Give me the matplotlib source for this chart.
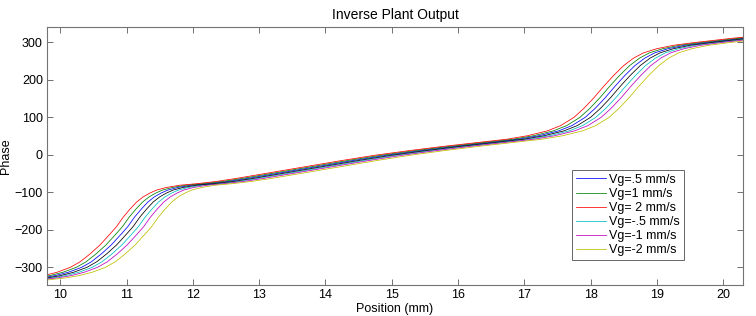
import matplotlib

matplotlib.use("Agg")
import matplotlib.pyplot as plt

plt.rcParams["font.family"] = ["Liberation Sans", "DejaVu Sans"]

# phase levels (deg) shared by all runs
phase = [-334, -328, -322, -313, -300, -285, -264, -240, -211, -191, -166,
         -145, -126, -112, -102, -94, -87, -81, -77, -71, -63, -45, -30, -15,
         -1, 11, 22, 32, 42, 51, 64, 78, 100, 124, 152, 183, 212, 238, 258,
         272, 283, 292, 299, 305, 311, 316]

# position (mm) at which each run reaches the phase levels above
pos_vg_p05 = [9.42, 9.72, 9.92, 10.12, 10.32, 10.47, 10.62, 10.77, 10.92,
              11.02, 11.12, 11.22, 11.32, 11.42, 11.52, 11.62, 11.77, 11.97,
              12.22, 12.52, 12.82, 13.42, 13.92, 14.42, 14.92, 15.42, 15.92,
              16.42, 16.92, 17.22, 17.52, 17.72, 17.92, 18.07, 18.22, 18.37,
              18.52, 18.67, 18.82, 18.97, 19.17, 19.42, 19.72, 20.02, 20.32,
              20.62]
pos_vg_p1 = [9.34, 9.64, 9.84, 10.04, 10.24, 10.39, 10.54, 10.69, 10.84,
             10.94, 11.04, 11.14, 11.24, 11.34, 11.44, 11.54, 11.69, 11.89,
             12.14, 12.44, 12.74, 13.34, 13.84, 14.34, 14.84, 15.34, 15.84,
             16.34, 16.84, 17.14, 17.44, 17.64, 17.84, 17.99, 18.14, 18.29,
             18.44, 18.59, 18.74, 18.89, 19.09, 19.34, 19.64, 19.94, 20.24,
             20.54]
pos_vg_p2 = [9.25, 9.55, 9.75, 9.95, 10.15, 10.30, 10.45, 10.60, 10.75,
             10.85, 10.95, 11.05, 11.15, 11.25, 11.35, 11.45, 11.60, 11.80,
             12.05, 12.35, 12.65, 13.25, 13.75, 14.25, 14.75, 15.25, 15.75,
             16.25, 16.75, 17.05, 17.35, 17.55, 17.75, 17.90, 18.05, 18.20,
             18.35, 18.50, 18.65, 18.80, 19.00, 19.25, 19.55, 19.85, 20.15,
             20.45]
pos_vg_m05 = [9.58, 9.88, 10.08, 10.28, 10.48, 10.63, 10.78, 10.93, 11.08,
              11.18, 11.28, 11.38, 11.48, 11.58, 11.68, 11.78, 11.93, 12.13,
              12.38, 12.68, 12.98, 13.58, 14.08, 14.58, 15.08, 15.58, 16.08,
              16.58, 17.08, 17.38, 17.68, 17.88, 18.08, 18.23, 18.38, 18.53,
              18.68, 18.83, 18.98, 19.13, 19.33, 19.58, 19.88, 20.18, 20.48,
              20.78]
pos_vg_m1 = [9.66, 9.96, 10.16, 10.36, 10.56, 10.71, 10.86, 11.01, 11.16,
             11.26, 11.36, 11.46, 11.56, 11.66, 11.76, 11.86, 12.01, 12.21,
             12.46, 12.76, 13.06, 13.66, 14.16, 14.66, 15.16, 15.66, 16.16,
             16.66, 17.16, 17.46, 17.76, 17.96, 18.16, 18.31, 18.46, 18.61,
             18.76, 18.91, 19.06, 19.21, 19.41, 19.66, 19.96, 20.26, 20.56,
             20.86]
pos_vg_m2 = [9.78, 10.08, 10.28, 10.48, 10.68, 10.83, 10.98, 11.13, 11.28,
             11.38, 11.48, 11.58, 11.68, 11.78, 11.88, 11.98, 12.13, 12.33,
             12.58, 12.88, 13.18, 13.78, 14.28, 14.78, 15.28, 15.78, 16.28,
             16.78, 17.28, 17.58, 17.88, 18.08, 18.28, 18.43, 18.58, 18.73,
             18.88, 19.03, 19.18, 19.33, 19.53, 19.78, 20.08, 20.38, 20.68,
             20.98]
pos_vg_0 = [9.5, 9.8, 10.0, 10.2, 10.4, 10.55, 10.7, 10.85, 11.0, 11.1, 11.2,
            11.3, 11.4, 11.5, 11.6, 11.7, 11.85, 12.05, 12.3, 12.6, 12.9,
            13.5, 14.0, 14.5, 15.0, 15.5, 16.0, 16.5, 17.0, 17.3, 17.6, 17.8,
            18.0, 18.15, 18.3, 18.45, 18.6, 18.75, 18.9, 19.05, 19.25, 19.5,
            19.8, 20.1, 20.4, 20.7]

labels = ["Vg=.5 mm/s", "Vg=1 mm/s", "Vg= 2 mm/s",
          "Vg=-.5 mm/s", "Vg=-1 mm/s", "Vg=-2 mm/s"]
runs = [pos_vg_p05, pos_vg_p1, pos_vg_p2, pos_vg_m05, pos_vg_m1, pos_vg_m2]
colors = [(0, 0, 1), (0, 0.5, 0), (1, 0, 0),
          (0, 0.75, 0.75), (0.75, 0, 0.75), (0.75, 0.75, 0)]

xticks = list(range(10, 21))
yticks = [-300, -200, -100, 0, 100, 200, 300]

fig = plt.figure(figsize=(7.56, 3.16), dpi=100)
ax = fig.add_axes([0.0622, 0.098, 0.9206, 0.8156])

for pos, lab, c in zip(runs, labels, colors):
    ax.plot(pos, phase, color=c, lw=0.55, label=lab)
ax.plot(pos_vg_0, phase, color="k", lw=0.55)

ax.set_xlim(9.8, 20.3)
ax.set_ylim(-347, 340)
ax.set_xticks(xticks)
ax.set_yticks(yticks)
ax.tick_params(direction="in", length=4, width=0.6, labelsize=9,
               top=True, right=True, color="0.35", pad=3)
for sp in ax.spines.values():
    sp.set_color("0.45")
    sp.set_linewidth(0.8)

ax.set_title("Inverse Plant Output", fontsize=10, pad=6)
ax.set_xlabel("Position (mm)", fontsize=9, labelpad=1)
ax.set_ylabel("Phase", fontsize=9, labelpad=2)

leg = ax.legend(loc="upper left", bbox_to_anchor=(0.755, 0.446),
                fontsize=9, handlelength=2.4, handletextpad=0.25,
                labelspacing=0.17, borderpad=0.3, borderaxespad=0,
                fancybox=False, framealpha=1)
leg.get_frame().set_edgecolor("0.4")
leg.get_frame().set_linewidth(0.7)

fig.savefig("out.png", dpi=100)
